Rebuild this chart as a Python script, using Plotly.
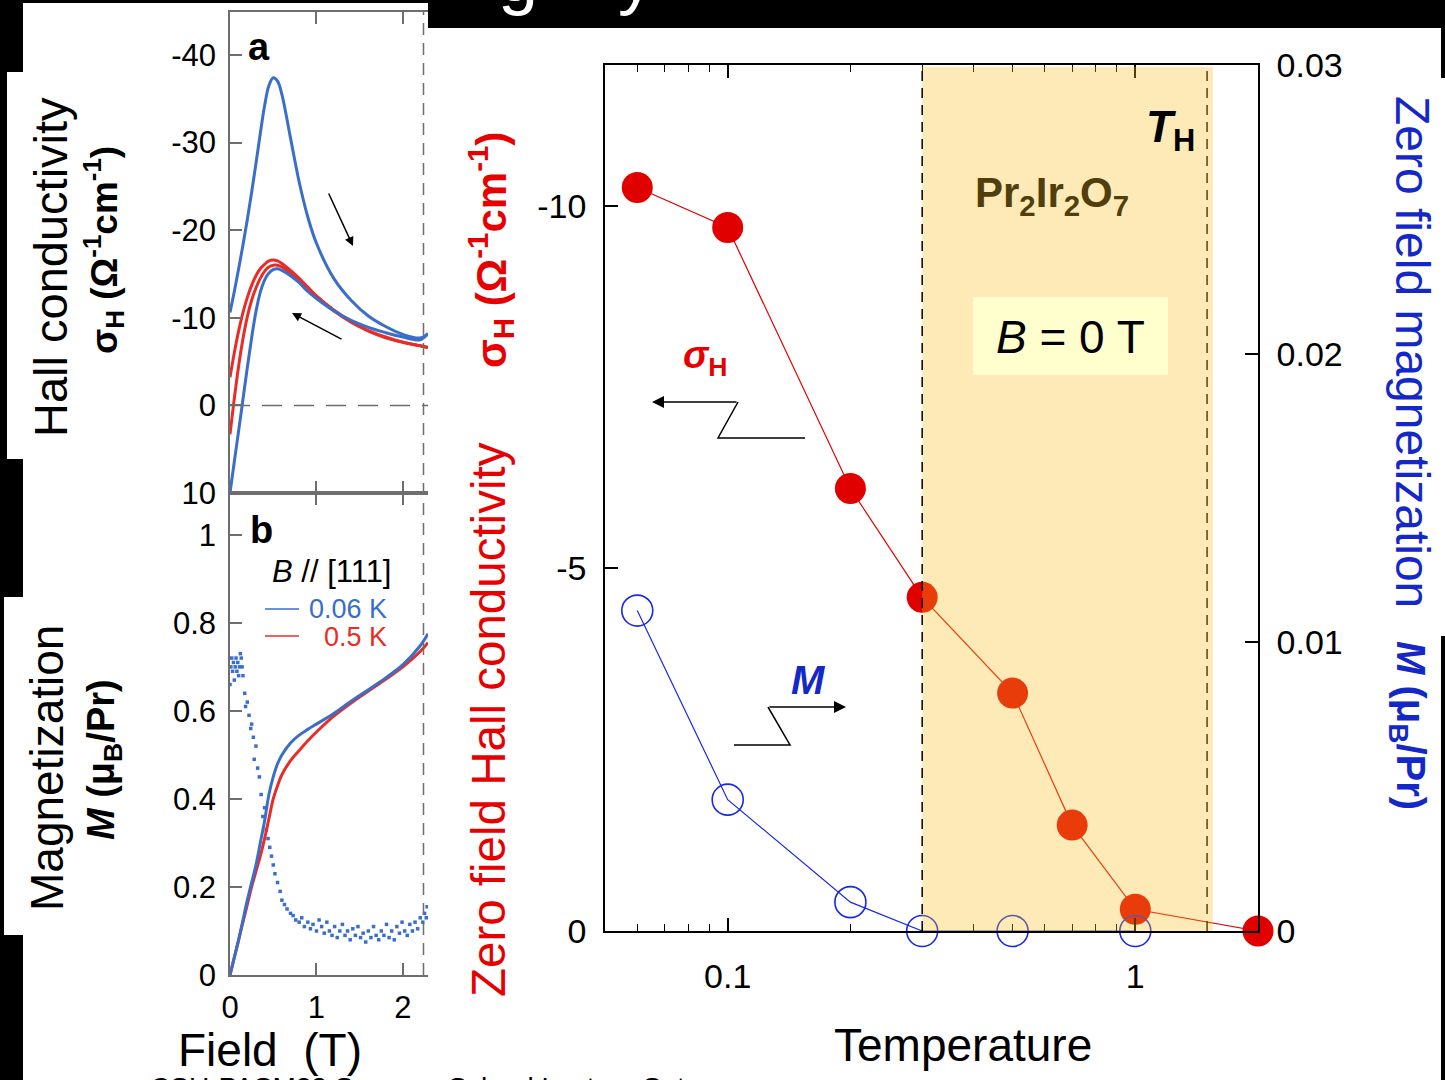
import plotly.graph_objects as go
import math

W, H = 1445, 1080
def px(x): return x / W
def py(y): return 1 - y / H

FONT = "Arial, Liberation Sans, sans-serif"

# ---------------- Panel a : Hall conductivity vs field ----------------
field_a = [0, 0.05, 0.1, 0.15, 0.2, 0.25, 0.3, 0.35, 0.4, 0.45, 0.5, 0.55, 0.6,
           0.7, 0.8, 0.9, 1.0, 1.2, 1.4, 1.6, 1.8, 2.0, 2.2, 2.29]
sigma_006K_peak = [-10.6, -13.0, -15.6, -18.3, -21.2, -24.3, -27.6, -31.0, -34.2, -36.5, -37.4, -37.0, -35.5,
                   -30.5, -25.5, -21.5, -18.5, -14.5, -12.0, -10.2, -9.0, -8.1, -7.7, -8.2]
sigma_006K_low = [10.0, 6.4, 2.9, -0.7, -4.3, -7.7, -10.7, -12.9, -14.3, -15.1, -15.5, -15.6, -15.4,
                  -14.8, -14.0, -13.0, -12.2, -10.8, -9.7, -8.9, -8.3, -7.8, -7.5, -8.2]
sigma_05K_a = [-3.2, -6.0, -8.5, -10.6, -12.3, -13.7, -14.8, -15.6, -16.1, -16.5, -16.6, -16.5, -16.2,
               -15.4, -14.5, -13.5, -12.5, -10.9, -9.6, -8.5, -7.7, -7.2, -6.8, -6.6]
sigma_05K_b = [3.3, -0.8, -4.5, -7.6, -10.1, -12.0, -13.4, -14.5, -15.3, -15.8, -16.0, -16.0, -15.8,
               -15.1, -14.3, -13.4, -12.4, -10.8, -9.5, -8.5, -7.8, -7.2, -6.8, -6.6]
a_yticks = [-40, -30, -20, -10, 0, 10]
a_yticktext = ["-40", "-30", "-20", "-10", "0", "10"]

# ---------------- Panel b : magnetization vs field ----------------
field_b = field_a
M_006K = [0, 0.04, 0.08, 0.125, 0.17, 0.21, 0.25, 0.30, 0.35, 0.41, 0.45, 0.48, 0.50,
          0.527, 0.545, 0.558, 0.57, 0.594, 0.622, 0.648, 0.675, 0.705, 0.748, 0.775]
M_05K = [0, 0.04, 0.08, 0.12, 0.16, 0.20, 0.235, 0.27, 0.31, 0.355, 0.40, 0.43, 0.455,
         0.487, 0.51, 0.532, 0.552, 0.588, 0.618, 0.645, 0.672, 0.70, 0.735, 0.755]
dMdB_field = [0.00, 0.01, 0.02, 0.03, 0.04, 0.05, 0.06, 0.07, 0.08, 0.09, 0.10, 0.11, 0.12, 0.13, 0.14, 0.15,
              0.17, 0.18, 0.20, 0.22, 0.24, 0.25, 0.27, 0.28, 0.30, 0.32, 0.34, 0.36, 0.38, 0.40, 0.42,
              0.44, 0.46, 0.48, 0.50, 0.52, 0.55, 0.58, 0.60, 0.63, 0.66, 0.70, 0.73, 0.76, 0.80, 0.83,
              0.86, 0.90, 0.93, 0.96, 1.00, 1.03, 1.06, 1.09, 1.12, 1.15, 1.18, 1.21, 1.24, 1.27, 1.30,
              1.33, 1.36, 1.39, 1.42, 1.45, 1.48, 1.51, 1.54, 1.57, 1.60, 1.63, 1.66, 1.69, 1.72, 1.75,
              1.78, 1.81, 1.84, 1.87, 1.90, 1.93, 1.96, 1.99, 2.02, 2.05, 2.08, 2.11, 2.14, 2.17, 2.20,
              2.23, 2.25, 2.27, 2.28]
dMdB_value = [0.66, 0.70, 0.72, 0.69, 0.71, 0.67, 0.70, 0.72, 0.69, 0.71, 0.68, 0.70, 0.73, 0.72, 0.70, 0.68,
              0.64, 0.61, 0.62, 0.59, 0.56, 0.57, 0.54, 0.49, 0.52, 0.47, 0.45, 0.41, 0.36, 0.38, 0.33,
              0.31, 0.29, 0.27, 0.25, 0.23, 0.21, 0.19, 0.17, 0.16, 0.15, 0.14, 0.135, 0.125, 0.12, 0.13,
              0.11, 0.12, 0.105, 0.115, 0.10, 0.125, 0.11, 0.095, 0.12, 0.10, 0.09, 0.11, 0.085, 0.10, 0.115,
              0.09, 0.10, 0.08, 0.105, 0.09, 0.11, 0.085, 0.095, 0.075, 0.10, 0.085, 0.11, 0.09, 0.08, 0.10,
              0.09, 0.115, 0.085, 0.10, 0.08, 0.11, 0.095, 0.12, 0.10, 0.09, 0.115, 0.10, 0.12, 0.105, 0.13,
              0.12, 0.14, 0.13, 0.155]
b_yticks = [0, 0.2, 0.4, 0.6, 0.8, 1]
b_yticktext = ["0", "0.2", "0.4", "0.6", "0.8", "1"]
b_xticks = [0, 1, 2]
b_xticktext = ["0", "1", "2"]

# ---------------- Main panel : zero-field quantities vs temperature ----------------
T_sigma = [0.06, 0.1, 0.2, 0.3, 0.5, 0.7, 1.0, 2.0]
sigma_zero = [-10.25, -9.70, -6.10, -4.60, -3.28, -1.46, -0.30, 0.0]
T_M = [0.06, 0.1, 0.2, 0.3, 0.5, 1.0]
M_zero = [0.0111, 0.00455, 0.0010, 0.0, 0.0, 0.0]
main_xticks = [0.1, 1]
main_xticktext = ["0.1", "1"]
main_minor = [0.06, 0.07, 0.08, 0.09, 0.2, 0.3, 0.4, 0.5, 0.6, 0.7, 0.8, 0.9]
left_yticks = [0, -5, -10]
left_yticktext = ["0", "-5", "-10"]
right_yticks = [0, 0.01, 0.02, 0.03]
right_yticktext = ["0", "0.01", "0.02", "0.03"]
T_H = 1.5
T_dash = 0.3
T_shade_end = 1.55

BLUE_A = "rgb(58,110,200)"
RED_A = "rgb(232,45,40)"
RED_M = "rgb(224,0,0)"
BLUE_M = "rgb(25,40,230)"

fig = go.Figure()

# panel a curves
for ys, c in [(sigma_05K_a, RED_A), (sigma_05K_b, RED_A), (sigma_006K_low, BLUE_A), (sigma_006K_peak, BLUE_A)]:
    fig.add_trace(go.Scatter(x=field_a, y=ys, mode="lines", line=dict(color=c, width=3, shape="spline"),
                             xaxis="x", yaxis="y", showlegend=False, hoverinfo="skip"))
# panel b
fig.add_trace(go.Scatter(x=dMdB_field, y=dMdB_value, mode="markers",
                         marker=dict(symbol="square", size=3.5, color=BLUE_A),
                         xaxis="x2", yaxis="y2", showlegend=False, hoverinfo="skip"))
fig.add_trace(go.Scatter(x=field_b, y=M_05K, mode="lines", line=dict(color=RED_A, width=3, shape="spline"),
                         xaxis="x2", yaxis="y2", showlegend=False, hoverinfo="skip"))
fig.add_trace(go.Scatter(x=field_b, y=M_006K, mode="lines", line=dict(color=BLUE_A, width=3, shape="spline"),
                         xaxis="x2", yaxis="y2", showlegend=False, hoverinfo="skip"))
# main
fig.add_trace(go.Scatter(x=T_M, y=M_zero, mode="lines+markers",
                         line=dict(color=BLUE_M, width=1.2),
                         marker=dict(symbol="circle-open", size=31, color=BLUE_M, line=dict(width=1.6)),
                         xaxis="x3", yaxis="y4", showlegend=False, cliponaxis=False, hoverinfo="skip"))
fig.add_trace(go.Scatter(x=T_sigma, y=sigma_zero, mode="lines+markers",
                         line=dict(color=RED_M, width=1.2),
                         marker=dict(symbol="circle", size=31, color=RED_M),
                         xaxis="x3", yaxis="y3", showlegend=False, cliponaxis=False, hoverinfo="skip"))

grey = "rgb(110,110,110)"
tickfont_small = dict(family=FONT, size=31, color="black")
tickfont_main = dict(family=FONT, size=34, color="black")

fig.update_layout(
    width=W, height=H, margin=dict(l=0, r=0, t=0, b=0, pad=0, autoexpand=False),
    paper_bgcolor="white", plot_bgcolor="rgba(0,0,0,0)",
    showlegend=False,
    xaxis=dict(domain=[px(230), px(428)], range=[0, 2.29], anchor="y", automargin=False,
               showgrid=False, zeroline=False, showline=True, linecolor=grey, linewidth=1.5,
               mirror="ticks", ticks="inside", ticklen=12, tickcolor=grey, tickwidth=1.5,
               tickvals=[1, 2], showticklabels=False),
    yaxis=dict(domain=[py(493), py(12)], range=[10, -44.9], anchor="x", automargin=False,
               showgrid=False, zeroline=False, showline=True, linecolor=grey, linewidth=1.5,
               ticks="inside", ticklen=12, tickcolor=grey, tickwidth=1.5,
               tickvals=a_yticks, ticktext=a_yticktext, tickfont=tickfont_small, ticklabelstandoff=6),
    xaxis2=dict(domain=[px(230), px(428)], range=[0, 2.29], anchor="y2", automargin=False,
                showgrid=False, zeroline=False, showline=True, linecolor=grey, linewidth=1.5,
                mirror="ticks", ticks="inside", ticklen=12, tickcolor=grey, tickwidth=1.5,
                tickvals=b_xticks, ticktext=b_xticktext, tickfont=tickfont_small, ticklabelstandoff=4),
    yaxis2=dict(domain=[py(975), py(493)], range=[0, 1.095], anchor="x2", automargin=False,
                showgrid=False, zeroline=False, showline=True, linecolor=grey, linewidth=1.5,
                ticks="inside", ticklen=12, tickcolor=grey, tickwidth=1.5,
                tickvals=b_yticks, ticktext=b_yticktext, tickfont=tickfont_small, ticklabelstandoff=6),
    xaxis3=dict(domain=[px(605), px(1258)], type="log", range=[math.log10(0.05), math.log10(2)], anchor="y3",
                automargin=False,
                showgrid=False, zeroline=False, showline=True, linecolor="black", linewidth=1.5,
                mirror="ticks", ticks="inside", ticklen=13, tickcolor="black", tickwidth=1.5,
                tickvals=main_xticks, ticktext=main_xticktext, tickfont=tickfont_main, ticklabelstandoff=14,
                minor=dict(tickvals=main_minor, ticks="inside", ticklen=7, tickcolor="black", tickwidth=1.2,
                           showgrid=False)),
    yaxis3=dict(domain=[py(931), py(65)], range=[0, -11.94], anchor="x3", automargin=False,
                showgrid=False, zeroline=False, showline=True, linecolor="black", linewidth=1.5,
                ticks="inside", ticklen=13, tickcolor="black", tickwidth=1.5,
                tickvals=left_yticks, ticktext=left_yticktext, tickfont=tickfont_main, ticklabelstandoff=10),
    yaxis4=dict(overlaying="y3", side="right", range=[0, 0.03], anchor="x3", automargin=False,
                showgrid=False, zeroline=False, showline=True, linecolor="black", linewidth=1.5,
                ticks="inside", ticklen=13, tickcolor="black", tickwidth=1.5,
                tickvals=right_yticks, ticktext=right_yticktext, tickfont=tickfont_main, ticklabelstandoff=10),
)

shapes = []
def prect(x0, y0, x1, y1, color, layer="above"):
    shapes.append(dict(type="rect", xref="paper", yref="paper", x0=px(x0), x1=px(x1), y0=py(y1), y1=py(y0),
                       fillcolor=color, line=dict(width=0), layer=layer))

# black slide background pieces
prect(0, 0, 428, 3, "black")
prect(428, 0, 1445, 28, "black")
prect(0, 0, 23, 72, "black")
prect(0, 72, 7, 459, "black")
prect(0, 459, 23, 597, "black")
prect(0, 597, 4, 935, "black")
prect(0, 935, 23, 1080, "black")
prect(1441, 28, 1445, 78, "black")
prect(1441, 636, 1445, 1080, "black")

# panel a zero dashed line
shapes.append(dict(type="line", xref="x", yref="y", x0=0, x1=2.29, y0=0, y1=0,
                   line=dict(color=grey, width=1.5, dash="20px,12px")))
# vertical dashed line through panels a and b
shapes.append(dict(type="line", xref="paper", yref="paper", x0=px(423.5), x1=px(423.5), y0=py(975), y1=py(12),
                   line=dict(color=grey, width=1.5, dash="12px,8px")))

# main: shaded region (overlay above data)
shapes.append(dict(type="rect", xref="x3", yref="paper", x0=T_dash, x1=T_shade_end,
                   y0=py(931), y1=py(67), fillcolor="rgba(249,189,32,0.32)", line=dict(width=0), layer="above"))
shapes.append(dict(type="line", xref="x3", yref="paper", x0=T_dash, x1=T_dash,
                   y0=py(931), y1=py(65), line=dict(color="black", width=1.5, dash="10px,7px"), layer="above"))
shapes.append(dict(type="line", xref="x3", yref="paper", x0=T_H, x1=T_H,
                   y0=py(931), y1=py(67), line=dict(color="rgb(85,66,14)", width=1.5, dash="10px,7px"), layer="above"))
# B = 0 T box
prect(973, 297, 1168, 375, "rgb(255,255,206)")

# zigzag arrows
def ppath(points):
    return "M " + " L ".join(f"{px(x):.5f} {py(y):.5f}" for x, y in points)
shapes.append(dict(type="path", xref="paper", yref="paper", path=ppath([(805, 438), (718, 438), (738, 402)]),
                   line=dict(color="black", width=1.5)))
shapes.append(dict(type="path", xref="paper", yref="paper", path=ppath([(734, 745), (790, 745), (768, 707)]),
                   line=dict(color="black", width=1.5)))
# legend lines panel b
shapes.append(dict(type="line", xref="paper", yref="paper", x0=px(265), x1=px(299), y0=py(609), y1=py(609),
                   line=dict(color=BLUE_A, width=1.5)))
shapes.append(dict(type="line", xref="paper", yref="paper", x0=px(265), x1=px(299), y0=py(636), y1=py(636),
                   line=dict(color=RED_A, width=1.5)))

fig.update_layout(shapes=shapes)

ann = []
def text(x, y, t, size, color="black", angle=0, xanchor="center", yanchor="middle"):
    ann.append(dict(xref="paper", yref="paper", x=px(x), y=py(y), text=t, showarrow=False,
                    font=dict(family=FONT, size=size, color=color), textangle=angle,
                    xanchor=xanchor, yanchor=yanchor))
def arrow(hx, hy, tx, ty, width=1.5, head=2, size=1.2):
    ann.append(dict(xref="paper", yref="paper", x=px(hx), y=py(hy), ax=tx - hx, ay=ty - hy,
                    axref="pixel", ayref="pixel", text="", showarrow=True, arrowhead=head,
                    arrowsize=size, arrowwidth=width, arrowcolor="black"))

# left panels labels
text(50, 267, "Hall conductivity", 47, angle=-90)
text(103, 250, "<b>σ<sub>H</sub> (Ω<sup>-1</sup>cm<sup>-1</sup>)</b>", 37, angle=-90)
text(47, 768, "Magnetization", 46, angle=-90)
text(104, 760, "<b><i>M</i> (μ<sub>B</sub>/Pr)</b>", 38, angle=-90)
text(270, 1050, "Field  (T)", 46)
text(259, 47, "<b>a</b>", 38)
text(261, 530, "<b>b</b>", 38)
text(332, 571, "<i>B</i> // [111]", 31)
text(307, 609, "0.06 K", 27, color=BLUE_A, xanchor="left")
text(322, 637, "0.5 K", 27, color=RED_A, xanchor="left")
arrow(353, 246, 328, 192)
arrow(292, 313, 343, 340)

# main labels
text(488, 720, "Zero field Hall conductivity", 47.5, color="rgb(230,0,0)", angle=-90)
text(490, 250, "<b>σ<sub>H</sub> (Ω<sup>-1</sup>cm<sup>-1</sup>)</b>", 42, color="rgb(230,0,0)", angle=-90)
text(1413, 352, "Zero field magnetization", 48, color="rgb(20,40,200)", angle=90)
text(1408, 725, "<b><i>M</i> (μ<sub>B</sub>/Pr)</b>", 40, color="rgb(20,40,200)", angle=90)
text(963, 1045, "Temperature", 46)
text(1170, 130, "<b><i>T</i><sub>H</sub></b>", 44)
text(1052, 195, "<b>Pr<sub>2</sub>Ir<sub>2</sub>O<sub>7</sub></b>", 42, color="rgb(80,62,12)")
text(1070, 337, "<i>B</i> = 0 T", 46)
text(705, 358, "<b><i>σ</i><sub>H</sub></b>", 38, color="rgb(230,0,0)")
text(808, 680, "<b><i>M</i></b>", 40, color="rgb(20,40,200)")
arrow(652, 402, 738, 402, head=2, size=1.6)
arrow(846, 707, 768, 707, head=2, size=1.6)

# slide fragments (title and footer cut off by the frame)
text(518, -66, "g", 72, color="white", yanchor="top")
text(636, -66, "y", 72, color="white", yanchor="top")
text(148, 1070, "CSU-PASM22 Summer School Lecture Sat", 28, xanchor="left", yanchor="top")

fig.update_layout(annotations=ann)
fig.write_html("out.html")
